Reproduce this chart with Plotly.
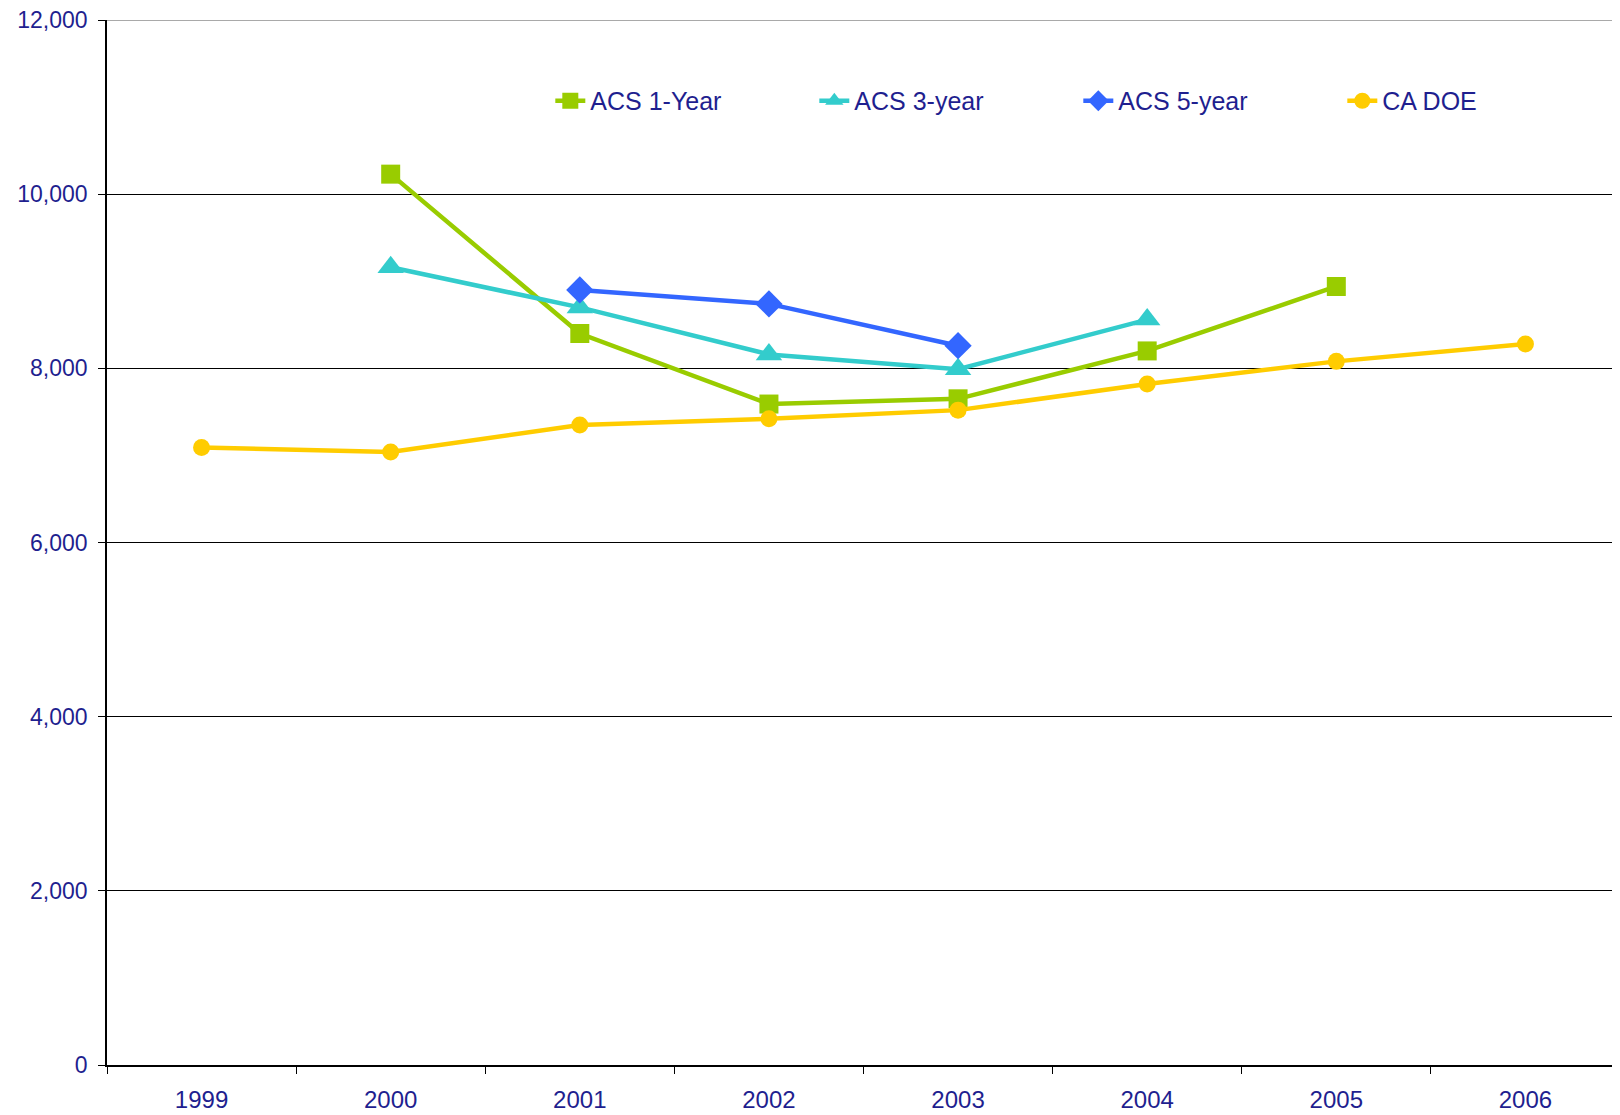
import plotly.graph_objs as go

years = ["1999", "2000", "2001", "2002", "2003", "2004", "2005", "2006"]

acs_1yr = [None, 10230, 8400, 7590, 7650, 8200, 8940, None]
acs_3yr = [None, 9160, 8700, 8160, 7990, 8560, None, None]
acs_5yr = [None, None, 8900, 8740, 8260, None, None, None]
ca_doe = [7090, 7040, 7350, 7420, 7520, 7820, 8080, 8280]

y_ticks = [0, 2000, 4000, 6000, 8000, 10000, 12000]

text_color = "#1F1F8F"

series = [
    ("ACS 1-Year", acs_1yr, "#99CC00", "square", 19),
    ("ACS 3-year", acs_3yr, "#33CCCC", "triangle-up", 23),
    ("ACS 5-year", acs_5yr, "#3366FF", "diamond", 21),
    ("CA DOE", ca_doe, "#FFCC00", "circle", 17),
]

fig = go.Figure()
for name, vals, color, symbol, size in series:
    fig.add_trace(go.Scatter(
        x=years, y=vals, name=name, mode="lines+markers",
        line=dict(color=color, width=4.5),
        marker=dict(color=color, symbol=symbol, size=size),
        connectgaps=False,
    ))

# top border of the plot area (grey, like the original)
fig.add_shape(type="line", xref="paper", yref="y", x0=0, x1=1, y0=12000, y1=12000,
              line=dict(color="#8C8C8C", width=1.5))

# page body has an 8px margin, so the figure is a bit smaller than the window
fig.update_layout(
    width=1612, height=1107,
    margin=dict(l=99, r=0, t=12, b=50),
    plot_bgcolor="white", paper_bgcolor="white",
    font=dict(family="Liberation Sans, Arial, sans-serif", size=24, color=text_color),
    showlegend=True,
    legend=dict(
        orientation="h", x=0.293, y=0.9225, xanchor="left", yanchor="middle",
        font=dict(size=25, color=text_color), entrywidth=219, entrywidthmode="pixels",
        bgcolor="rgba(0,0,0,0)", itemclick=False,
    ),
    xaxis=dict(
        type="category", categoryorder="array", categoryarray=years,
        range=[-0.5, 7.5], tickson="boundaries", ticks="outside", ticklen=7,
        tickcolor="black", showline=True, linecolor="black", linewidth=1.5,
        showgrid=False, zeroline=False, automargin=False, ticklabelstandoff=12,
        ticklabeloverflow="allow", tickfont=dict(size=24, color=text_color),
    ),
    yaxis=dict(
        range=[0, 12000], tickvals=y_ticks, tickformat=",d", ticks="outside", ticklen=7,
        tickcolor="black", showline=True, linecolor="black", linewidth=1.5,
        showgrid=True, gridcolor="black", gridwidth=1, zeroline=False, automargin=False,
        ticklabelstandoff=6, ticklabeloverflow="allow",
        tickfont=dict(size=23, color=text_color),
    ),
)

fig.write_html("out.html")
